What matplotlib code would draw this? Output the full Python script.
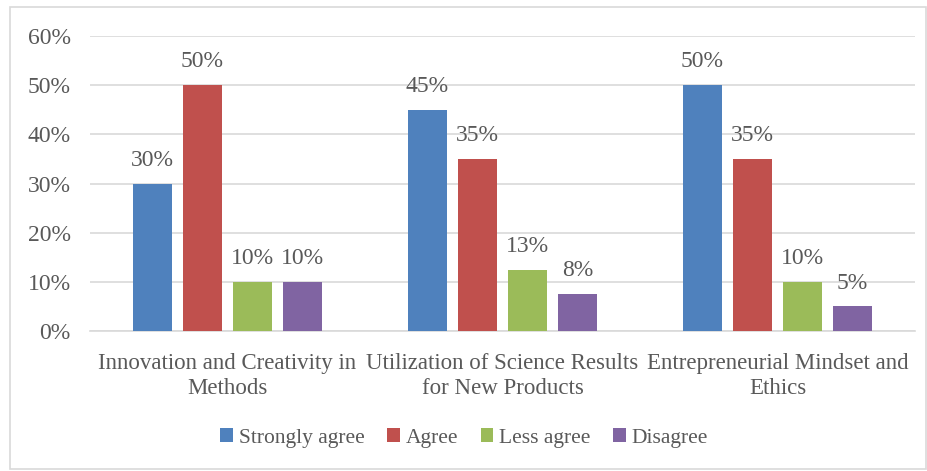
import matplotlib
matplotlib.use("Agg")
import matplotlib.pyplot as plt
from matplotlib.patches import Rectangle
import numpy as np

categories = ["Innovation and Creativity in\nMethods",
              "Utilization of Science Results\nfor New Products",
              "Entrepreneurial Mindset and\nEthics"]
series_names = ["Strongly agree", "Agree", "Less agree", "Disagree"]
strongly_agree = [30, 45, 50]
agree = [50, 35, 35]
less_agree = [10, 12.5, 10]
disagree = [10, 7.5, 5]
value_labels = [["30%", "45%", "50%"], ["50%", "35%", "35%"],
                ["10%", "13%", "10%"], ["10%", "8%", "5%"]]
yticks = [0, 10, 20, 30, 40, 50, 60]
colors = ["#4F81BD", "#C0504D", "#9BBB59", "#8064A2"]

plt.rcParams['font.family'] = ['Liberation Serif', 'DejaVu Serif']
txt = "#595959"

W, H = 928, 471
fig = plt.figure(figsize=(W/100, H/100), dpi=100)
ax = fig.add_axes([90/W, (H-331)/H, (915-90)/W, (331-36)/H])

series = [strongly_agree, agree, less_agree, disagree]
x = np.arange(len(categories))
step = 50/275
width = 39/275
for i, (vals, c, labs) in enumerate(zip(series, colors, value_labels)):
    pos = x + (i - 1.5) * step
    ax.bar(pos, vals, width=width, color=c, label=series_names[i], zorder=3)
    for p, v, l in zip(pos, vals, labs):
        ax.text(p, v + 2.6, l, ha="center", va="bottom", fontsize=17, color=txt)

ax.set_xlim(-0.5, 2.5)
ax.set_ylim(0, 60)
ax.set_yticks(yticks)
ax.set_yticklabels([f"{t}%" for t in yticks], fontsize=17, color=txt)
ax.set_xticks(x)
ax.set_xticklabels(categories, fontsize=16.5, color=txt, linespacing=1.25)
ax.tick_params(axis="both", length=0)
ax.tick_params(axis="y", pad=14)
ax.tick_params(axis="x", pad=16)
ax.grid(axis="y", color="#D9D9D9", linewidth=1.2, zorder=0)
for s in ["top", "right", "left"]:
    ax.spines[s].set_visible(False)
ax.spines["bottom"].set_color("#D9D9D9")
ax.spines["bottom"].set_linewidth(1.2)

leg = fig.legend(loc="center", bbox_to_anchor=(0.5, (H-438)/H), ncol=4, frameon=False,
                 fontsize=15.5, handlelength=0.6, handleheight=0.6, handletextpad=0.25,
                 columnspacing=1.05, labelcolor=txt)

fig.patches.append(Rectangle((10/W, 2/H), (W-12)/W, (H-9)/H, transform=fig.transFigure,
                             fill=False, edgecolor="#D9D9D9", linewidth=1.2))
fig.savefig("out.png", dpi=100)
